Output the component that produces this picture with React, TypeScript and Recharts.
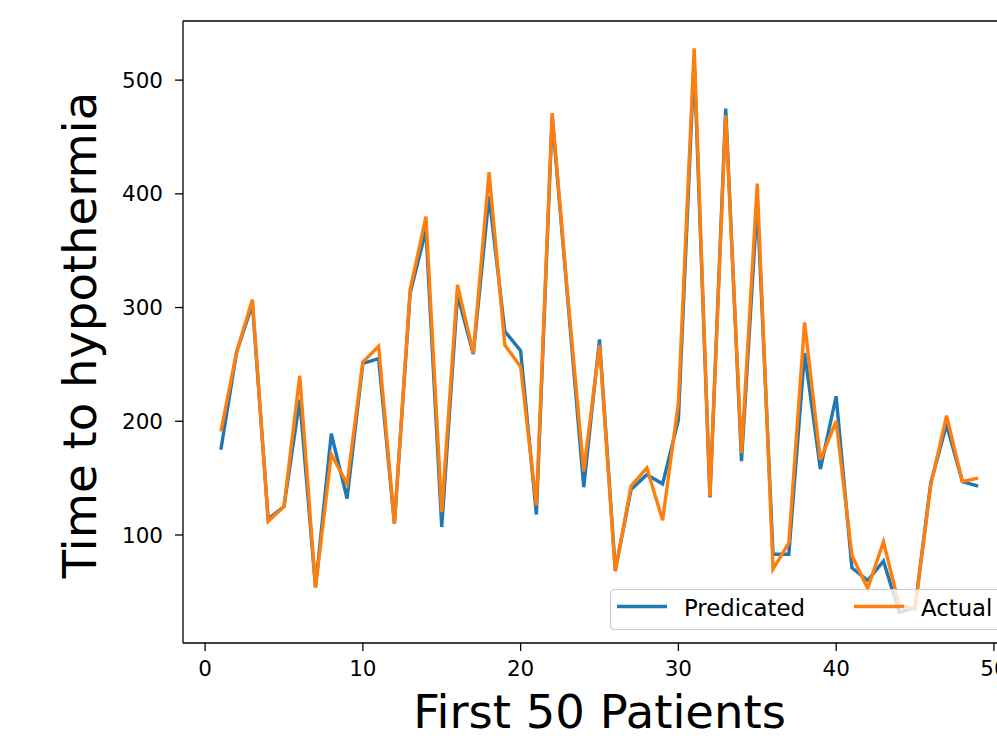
import { LineChart, Line, XAxis, YAxis, Legend, Label, ReferenceLine } from 'recharts';

const patients = [
  1, 2, 3, 4, 5, 6, 7, 8, 9, 10, 11, 12, 13, 14, 15, 16, 17, 18, 19, 20, 21, 22, 23, 24, 25,
  26, 27, 28, 29, 30, 31, 32, 33, 34, 35, 36, 37, 38, 39, 40, 41, 42, 43, 44, 45, 46, 47, 48, 49,
];
const predicated = [
  175, 261, 303, 114, 125, 219, 54, 189, 132, 251, 255, 110, 313, 368, 107, 311, 259, 398, 279, 262,
  118, 468, 305, 142, 272, 69, 140, 153, 145, 201, 518, 133, 475, 165, 392, 83, 83, 260, 158, 222,
  71, 60, 77, 32, 36, 146, 197, 147, 143,
];
const actual = [
  191, 261, 307, 112, 125, 240, 54, 171, 145, 252, 266, 110, 316, 380, 120, 320, 260, 419, 267, 248,
  126, 471, 308, 156, 267, 68, 143, 159, 113, 216, 528, 134, 469, 172, 409, 70, 93, 287, 166, 200,
  82, 53, 94, 38, 35, 144, 205, 147, 150,
];
const seriesNames = ['Predicated', 'Actual'];
const xTicks = [0, 10, 20, 30, 40, 50];
const yTicks = [100, 200, 300, 400, 500];

const data = patients.map((p, i) => ({ patient: p, predicated: predicated[i], actual: actual[i] }));

const font = 'DejaVu Sans';
const tickStyle = { fill: '#000', fontSize: 21.5, fontFamily: font };
const yMax = 552;

function LegendBox(props: any) {
  const items = [...(props.payload || [])].sort(
    (a: any, b: any) => seriesNames.indexOf(a.value) - seriesNames.indexOf(b.value)
  );
  return (
    <svg width={400} height={42} style={{ display: 'block' }}>
      <rect x={0.5} y={0.5} width={398} height={40} rx={4} fill="rgba(255,255,255,0.8)" stroke="#cccccc" strokeWidth={1.2} />
      {items.map((it: any, i: number) => {
        const ox = i * 237;
        return (
          <g key={it.value}>
            <line x1={7 + ox} x2={57 + ox} y1={17.5} y2={17.5} stroke={it.color} strokeWidth={3.4} />
            <text x={74 + ox} y={26.5} fontSize={22.8} fontFamily={font} fill="#000">{it.value}</text>
          </g>
        );
      })}
    </svg>
  );
}

export default function App() {
  return (
    <div style={{ position: 'fixed', left: 0, top: 0, width: 997, height: 746, overflow: 'hidden', background: '#fff' }}>
      <LineChart width={1040} height={746} data={data} margin={{ top: 21, right: 24, left: 0, bottom: 43 }}>
        <XAxis
          dataKey="patient"
          type="number"
          domain={[-1.4, 51.4]}
          ticks={xTicks}
          allowDataOverflow
          height={60}
          tick={tickStyle}
          tickSize={8}
          tickMargin={10}
          axisLine={{ stroke: '#000', strokeWidth: 1.3 }}
          tickLine={{ stroke: '#000', strokeWidth: 1.3 }}
        >
          <Label
            content={({ viewBox }: any) => (
              <text x={viewBox.x + viewBox.width / 2} y={viewBox.y + 85} textAnchor="middle" fontSize={46.5} fontFamily={font} fill="#000">
                First 50 Patients
              </text>
            )}
          />
        </XAxis>
        <YAxis
          type="number"
          domain={[5, yMax]}
          ticks={yTicks}
          allowDataOverflow
          width={183}
          tick={tickStyle}
          tickSize={8}
          tickMargin={12}
          axisLine={{ stroke: '#000', strokeWidth: 1.3 }}
          tickLine={{ stroke: '#000', strokeWidth: 1.3 }}
        >
          <Label
            content={({ viewBox }: any) => {
              const x = viewBox.x + 96;
              const y = viewBox.y + viewBox.height / 2 + 3;
              return (
                <text x={x} y={y} transform={`rotate(-90 ${x} ${y})`} textAnchor="middle" fontSize={46.5} fontFamily={font} fill="#000">
                  Time to hypothermia
                </text>
              );
            }}
          />
        </YAxis>
        <ReferenceLine y={yMax} stroke="#000" strokeWidth={1.3} ifOverflow="visible" />
        <Line dataKey="predicated" name="Predicated" type="linear" stroke="#1f77b4" strokeWidth={3.4} dot={false} isAnimationActive={false} />
        <Line dataKey="actual" name="Actual" type="linear" stroke="#ff7f0e" strokeWidth={3.4} dot={false} isAnimationActive={false} />
        <Legend
          layout="horizontal"
          align="center"
          verticalAlign="middle"
          content={LegendBox}
          wrapperStyle={{ left: 610, top: 589, width: 400, height: 42 }}
        />
      </LineChart>
    </div>
  );
}
